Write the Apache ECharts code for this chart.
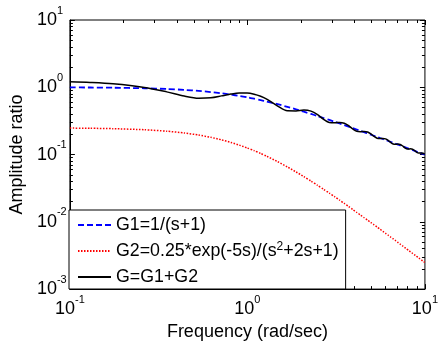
<!DOCTYPE html>
<html>
<head>
<meta charset="utf-8">
<script src="https://cdn.jsdelivr.net/npm/echarts@6/dist/echarts.min.js"></script>
<style>
html,body{margin:0;padding:0;background:#fff;}
#chart{width:441px;height:346px;}
</style>
</head>
<body>
<div id="chart"></div>
<script>
const freq = [0.1, 0.13, 0.1748, 0.2627, 0.3513, 0.4407, 0.5307, 0.6217, 0.7138, 0.8067, 0.9006, 0.9953, 1.0909, 1.1872, 1.2842, 1.4802, 1.6781, 1.8779, 2.0793, 2.2818, 2.4852, 2.6892, 2.894, 3.0993, 3.3052, 3.5113, 3.7177, 3.9246, 4.1316, 4.3388, 4.5462, 4.7539, 4.9616, 5.1695, 5.3775, 5.5855, 5.7938, 6.002, 6.2104, 6.4188, 6.6273, 6.8358, 7.0444, 7.2531, 7.4617, 7.6705, 7.8792, 8.088, 8.2968, 8.5057, 8.7146, 8.9235, 9.1324, 9.3414, 9.5504, 9.7594, 9.9684, 10];
const g1 = [0.9950, 0.9917, 0.9851, 0.9672, 0.9435, 0.9151, 0.8833, 0.8493, 0.8139, 0.7783, 0.7431, 0.7088, 0.6757, 0.6442, 0.6144, 0.5598, 0.5119, 0.4700, 0.4334, 0.4014, 0.3733, 0.3485, 0.3266, 0.3071, 0.2896, 0.2739, 0.2598, 0.2469, 0.2353, 0.2246, 0.2148, 0.2059, 0.1976, 0.1899, 0.1828, 0.1762, 0.1701, 0.1644, 0.1590, 0.1539, 0.1492, 0.1448, 0.1406, 0.1366, 0.1328, 0.1293, 0.1259, 0.1227, 0.1197, 0.1168, 0.1140, 0.1114, 0.1089, 0.1064, 0.1041, 0.1019, 0.0998, 0.0995];
const g2 = [0.2475, 0.2458, 0.2426, 0.2339, 0.2225, 0.2093, 0.1951, 0.1803, 0.1656, 0.1514, 0.1380, 0.1256, 0.1142, 0.1038, 0.0944, 0.0784, 0.0655, 0.0552, 0.0470, 0.0403, 0.0348, 0.0304, 0.0267, 0.0236, 0.0210, 0.0188, 0.0169, 0.0152, 0.0138, 0.0126, 0.0115, 0.0106, 0.00976, 0.00902, 0.00836, 0.00776, 0.00723, 0.00675, 0.00632, 0.00592, 0.00557, 0.00524, 0.00494, 0.00466, 0.00441, 0.00418, 0.00396, 0.00376, 0.00358, 0.00341, 0.00325, 0.00310, 0.00296, 0.00283, 0.00271, 0.00260, 0.00249, 0.00248];
const g = [1.2075, 1.1793, 1.1261, 0.9951, 0.8542, 0.7412, 0.6883, 0.6990, 0.7451, 0.7929, 0.8208, 0.8199, 0.7899, 0.7359, 0.6666, 0.5250, 0.4464, 0.4450, 0.4587, 0.4417, 0.3919, 0.3344, 0.2999, 0.2960, 0.3006, 0.2927, 0.2686, 0.2397, 0.2214, 0.2186, 0.2208, 0.2164, 0.2026, 0.1856, 0.1745, 0.1725, 0.1738, 0.1711, 0.1622, 0.1511, 0.1436, 0.1422, 0.1431, 0.1412, 0.1351, 0.1272, 0.1220, 0.1209, 0.1215, 0.1202, 0.1157, 0.1099, 0.1059, 0.1051, 0.1055, 0.1045, 0.1011, 0.1004];

const seriesNames = ['G1=1/(s+1)', 'G2=0.25*exp(-5s)/(s^2+2s+1)', 'G=G1+G2'];
const legendRich = ['{b|G1=1/(s+1)}', '{b|G2=0.25*exp(-5s)/(s}{s|2}{b|+2s+1)}', '{b|G=G1+G2}'];

const xTicks = [0.1, 1, 10];
const xTickExp = ['-1', '0', '1'];
const yTicks = [0.001, 0.01, 0.1, 1, 10];
const yTickExp = ['-3', '-2', '-1', '0', '1'];
const xMinor = [0.2, 0.3, 0.4, 0.5, 0.6, 0.7, 0.8, 0.9, 2, 3, 4, 5, 6, 7, 8, 9];
const yMinor = [0.002, 0.003, 0.004, 0.005, 0.006, 0.007, 0.008, 0.009,
                0.02, 0.03, 0.04, 0.05, 0.06, 0.07, 0.08, 0.09,
                0.2, 0.3, 0.4, 0.5, 0.6, 0.7, 0.8, 0.9,
                2, 3, 4, 5, 6, 7, 8, 9];

const FONT = '"Liberation Sans", Arial, sans-serif';

function expLabel(ticks, exps) {
  return function (v) {
    for (let i = 0; i < ticks.length; i++) {
      if (Math.abs(Math.log10(v / ticks[i])) < 1e-6) return '{b|10}{s|' + exps[i] + '}';
    }
    return '';
  };
}
const tickRich = {
  b: { fontFamily: FONT, fontSize: 18, lineHeight: 30, color: '#000' },
  s: { fontFamily: FONT, fontSize: 11, lineHeight: 11, color: '#000', verticalAlign: 'top' }
};

// tick-only log axes on each side of the frame
function tickAxis(kind, pos, ticks, len) {
  const isX = kind === 'x';
  return {
    type: 'log', logBase: 10,
    min: isX ? 0.1 : 0.001, max: 10,
    position: pos,
    splitLine: { show: false },
    axisLine: { show: false, onZero: false },
    axisLabel: { show: false },
    axisTick: { show: true, inside: true, length: len, customValues: ticks, lineStyle: { color: '#000', width: 1 } }
  };
}

const xAxes = [
  {
    type: 'log', logBase: 10, min: 0.1, max: 10, position: 'bottom',
    splitLine: { show: false },
    axisLine: { show: true, onZero: false, lineStyle: { color: '#000', width: 1 } },
    axisTick: { show: true, inside: true, length: 5, lineStyle: { color: '#000', width: 1 } },
    axisLabel: { show: true, margin: 5, formatter: expLabel(xTicks, xTickExp), rich: tickRich, showMinLabel: true, showMaxLabel: true },
    name: 'Frequency (rad/sec)', nameLocation: 'middle', nameGap: 32,
    nameTextStyle: { fontFamily: FONT, fontSize: 18, color: '#000' }
  },
  tickAxis('x', 'bottom', xMinor, 3),
  tickAxis('x', 'top', xTicks, 5),
  tickAxis('x', 'top', xMinor, 3)
];
const yAxes = [
  {
    type: 'log', logBase: 10, min: 0.001, max: 10, position: 'left',
    splitLine: { show: false },
    axisLine: { show: true, onZero: false, lineStyle: { color: '#000', width: 1 } },
    axisTick: { show: true, inside: true, length: 5, lineStyle: { color: '#000', width: 1 } },
    axisLabel: { show: true, margin: 33, align: 'left', formatter: expLabel(yTicks, yTickExp), rich: tickRich, showMinLabel: true, showMaxLabel: true },
    name: 'Amplitude ratio', nameLocation: 'middle', nameGap: 43,
    nameTextStyle: { fontFamily: FONT, fontSize: 18, color: '#000' }
  },
  tickAxis('y', 'left', yMinor, 3),
  tickAxis('y', 'right', yTicks, 5),
  tickAxis('y', 'right', yMinor, 3)
];

function pairs(ys) { return freq.map(function (f, i) { return [f, ys[i]]; }); }

const chart = echarts.init(document.getElementById('chart'), null, { renderer: 'canvas' });
chart.setOption({
  animation: false,
  backgroundColor: '#fff',
  grid: { left: 66, right: 13, top: 20, bottom: 52, show: true, borderColor: '#000', borderWidth: 1, backgroundColor: 'transparent' },
  xAxis: xAxes,
  yAxis: yAxes,
  legend: {
    data: seriesNames,
    orient: 'vertical',
    left: 69, top: 210,
    backgroundColor: '#fff',
    borderColor: '#000', borderWidth: 1, borderRadius: 0,
    padding: [5, 7, 2, 8],
    itemWidth: 33, itemHeight: 14, itemGap: 6,
    itemStyle: { opacity: 0, borderWidth: 0 },
    textStyle: { fontFamily: FONT, fontSize: 17.8, lineHeight: 20, color: '#000', rich: {
      b: { fontFamily: FONT, fontSize: 17.8, lineHeight: 20, color: '#000' },
      s: { fontFamily: FONT, fontSize: 12, lineHeight: 12, color: '#000', verticalAlign: 'top' }
    } },
    formatter: function (name) { return legendRich[seriesNames.indexOf(name)]; }
  },
  series: [
    { name: seriesNames[0], type: 'line', data: pairs(g1), symbol: 'none', showSymbol: false, smooth: 0.2,
      lineStyle: { color: '#0000ff', width: 1.8, type: [6, 3] }, itemStyle: { color: '#0000ff' } },
    { name: seriesNames[1], type: 'line', data: pairs(g2), symbol: 'none', showSymbol: false, smooth: 0.2,
      lineStyle: { color: '#ff0000', width: 1.5, type: [1.5, 1.5] }, itemStyle: { color: '#ff0000' } },
    { name: seriesNames[2], type: 'line', data: pairs(g), symbol: 'none', showSymbol: false, smooth: 0.3,
      lineStyle: { color: '#000000', width: 1.5 }, itemStyle: { color: '#000000' } }
  ]
});
</script>
</body>
</html>
